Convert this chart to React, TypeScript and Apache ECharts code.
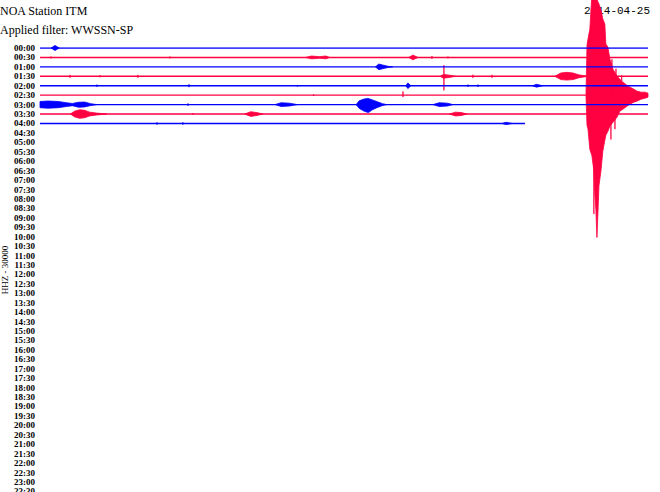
import React, { useEffect, useRef } from "react";
import * as echarts from "echarts";

// Helicorder row labels (one row = 30 minutes)
const rowLabels = [
  "00:00", "00:30", "01:00", "01:30", "02:00", "02:30", "03:00", "03:30",
  "04:00", "04:30", "05:00", "05:30", "06:00", "06:30", "07:00", "07:30",
  "08:00", "08:30", "09:00", "09:30", "10:00", "10:30", "11:00", "11:30",
  "12:00", "12:30", "13:00", "13:30", "14:00", "14:30", "15:00", "15:30",
  "16:00", "16:30", "17:00", "17:30", "18:00", "18:30", "19:00", "19:30",
  "20:00", "20:30", "21:00", "21:30", "22:00", "22:30", "23:00", "23:30",
];

// minutes recorded in each row so far
const recordedMinutes = [30, 30, 30, 30, 30, 30, 30, 30, 23.93];

// each event: list of [minute in row, amplitude up, amplitude down] (in row spacings)
type Sample = [number, number, number];

const events0000: Sample[][] = [
  [[0.55, 0, 0], [0.74, 0.27, 0.27], [0.95, 0, 0]],
];
const events0030: Sample[][] = [
  [[0.54, 0.1, 0.1]],
  [[6.41, 0.1, 0.1]],
  [[13.1, 0, 0], [13.4, 0.15, 0.15], [13.8, 0.08, 0.08], [14.1, 0.15, 0.15], [14.3, 0, 0]],
  [[18.2, 0, 0], [18.4, 0.25, 0.25], [18.65, 0, 0]],
  [[19.34, 0.15, 0.15]],
  [[20.13, 0.1, 0.1]],
];
const events0100: Sample[][] = [
  [[16.55, 0, 0], [16.72, 0.3, 0.3], [16.9, 0.2, 0.2], [17.2, 0.05, 0.05], [17.4, 0, 0]],
];
const events0130: Sample[][] = [
  [[1.48, 0.15, 0.15]],
  [[2.96, 0.1, 0.1]],
  [[4.83, 0.15, 0.15]],
  [[19.93, 1.17, 1.49]],
  [[19.75, 0, 0], [19.9, 0.2, 0.2], [20.2, 0.12, 0.12], [20.5, 0, 0]],
  [[21.36, 0.16, 0.16]],
  [[22.3, 0.16, 0.16]],
  [[25.4, 0, 0], [25.7, 0.35, 0.35], [26.0, 0.42, 0.4], [26.3, 0.35, 0.35], [26.6, 0.15, 0.15], [26.9, 0.05, 0.05], [27.1, 0, 0]],
];
const events0200: Sample[][] = [
  [[2.81, 0.12, 0.12]],
  [[7.35, 0.15, 0.15]],
  [[12.7, 0.08, 0.08]],
  [[18.05, 0, 0], [18.15, 0.3, 0.3], [18.3, 0, 0]],
  [[21.12, 0.12, 0.12]],
  [[21.61, 0.12, 0.12]],
  [[24.3, 0, 0], [24.5, 0.15, 0.15], [24.8, 0, 0]],
];
const events0230: Sample[][] = [
  [[13.5, 0.08, 0.08]],
  [[17.91, 0.4, 0.2]],
  [
    [26.94, 0, 0], [26.99, 5.31, 3.19], [27.04, 5.95, 3.61], [27.13, 7.0, 5.74],
    [27.23, 10.63, 6.4], [27.33, 10.63, 8.0], [27.38, 10.63, 10.6], [27.43, 10.4, 12.2],
    [27.48, 10.2, 15.09], [27.53, 9.9, 12.4], [27.58, 9.67, 9.6], [27.68, 9.03, 8.0],
    [27.77, 8.08, 5.95], [27.87, 7.55, 4.78], [27.92, 5.42, 4.25], [28.02, 5.1, 3.83],
    [28.12, 3.83, 3.29], [28.27, 2.76, 2.87], [28.47, 2.02, 2.34], [28.61, 1.7, 1.7],
    [28.76, 1.38, 1.49], [28.96, 1.06, 1.17], [29.11, 0.85, 0.96], [29.3, 0.64, 0.74],
    [29.45, 0.43, 0.64], [29.65, 0.32, 0.43], [29.85, 0.32, 0.32], [30.0, 0.21, 0.21],
  ],
  [[27.33, 0, 12.6]],
  [[28.17, 0, 4.7]],
  [[28.22, 3.8, 0]],
  [[28.37, 0, 3.6]],
  [[28.42, 2.8, 0]],
  [[28.7, 2.1, 0]],
];
const events0300: Sample[][] = [
  [[0, 0.33, 0.33], [0.4, 0.38, 0.38], [0.9, 0.33, 0.33], [1.3, 0.2, 0.2], [1.6, 0.12, 0.12], [1.9, 0.25, 0.28], [2.2, 0.27, 0.25], [2.5, 0.1, 0.1], [2.8, 0, 0]],
  [[7.3, 0.12, 0.12]],
  [[11.6, 0, 0], [11.9, 0.2, 0.2], [12.3, 0.15, 0.15], [12.7, 0, 0]],
  [[15.6, 0, 0], [15.75, 0.4, 0.4], [16.0, 0.6, 0.7], [16.2, 0.65, 0.85], [16.4, 0.5, 0.55], [16.65, 0.3, 0.3], [16.9, 0.1, 0.1], [17.1, 0, 0]],
  [[19.39, 0, 0], [19.7, 0.2, 0.2], [20.1, 0.15, 0.15], [20.37, 0, 0]],
];
const events0330: Sample[][] = [
  [[1.5, 0, 0], [1.7, 0.3, 0.3], [1.95, 0.45, 0.45], [2.2, 0.4, 0.4], [2.45, 0.2, 0.2], [2.8, 0.1, 0.1], [3.3, 0, 0]],
  [[7.55, 0.1, 0.1]],
  [[10.1, 0, 0], [10.4, 0.25, 0.25], [10.7, 0.15, 0.15], [11.0, 0, 0]],
  [[20.2, 0, 0], [20.5, 0.2, 0.2], [20.8, 0.15, 0.15], [21.07, 0, 0]],
];
const events0400: Sample[][] = [
  [[5.77, 0.12, 0.12]],
  [[7.05, 0.12, 0.12]],
  [[22.8, 0, 0], [23.0, 0.12, 0.12], [23.3, 0, 0]],
];

const traceEvents = [
  events0000, events0030, events0100, events0130, events0200,
  events0230, events0300, events0330, events0400,
];

const BLUE = "#0000ff";
const RED = "#ff0040";

export default function App() {
  const ref = useRef<HTMLDivElement>(null);
  useEffect(() => {
    document.body.style.margin = "0";
    const chart = echarts.init(ref.current!, null, { renderer: "svg" });
    const series: any[] = [];
    traceEvents.forEach((evs, r) => {
      const color = r % 2 === 0 ? BLUE : RED;
      series.push({
        type: "line",
        data: [[0, r], [recordedMinutes[r], r]],
        showSymbol: false,
        silent: true,
        lineStyle: { color, width: 1.4 },
      });
      series.push({
        type: "custom",
        silent: true,
        clip: false,
        data: evs.map((ev) => [ev[0][0], r]),
        renderItem: (params: any, api: any) => {
          const ev = evs[params.dataIndex];
          const top = ev.map(([m, u]) => api.coord([m, r - u]));
          const bottom = ev
            .slice()
            .reverse()
            .map(([m, , d]) => api.coord([m, r + d]));
          return {
            type: "polygon",
            shape: { points: top.concat(bottom) },
            style: { fill: color, stroke: color, lineWidth: 0.8 },
          };
        },
      });
    });

    chart.setOption({
      animation: false,
      grid: { left: 40, right: 12, top: 48, bottom: 0.6, outerBoundsMode: "none", containLabel: false },
      xAxis: { type: "value", min: 0, max: 30, show: false },
      yAxis: {
        type: "value",
        inverse: true,
        min: 0,
        max: 47,
        interval: 1,
        axisLine: { show: false },
        axisTick: { show: false },
        splitLine: { show: false },
        axisLabel: {
          margin: 5,
          fontFamily: "Liberation Serif",
          fontSize: 9,
          fontWeight: "bold",
          color: "#000",
          formatter: (v: number) => rowLabels[v] ?? "",
        },
      },
      graphic: {
        elements: [
          {
            type: "text", left: 0, top: 5, z: 0,
            style: { text: "NOA Station ITM", fontFamily: "Liberation Serif", fontSize: 12, fill: "#000" },
          },
          {
            type: "text", left: 0, top: 24, z: 0,
            style: { text: "Applied filter: WWSSN-SP", fontFamily: "Liberation Serif", fontSize: 12, fill: "#000" },
          },
          {
            type: "text", right: 10, top: 5, z: 0,
            style: { text: "2014-04-25", fontFamily: "Liberation Mono", fontSize: 11, fill: "#000" },
          },
          {
            type: "text", x: 5, y: 270, rotation: Math.PI / 2, z: 0,
            style: {
              text: "HHZ - 30000", fontFamily: "Liberation Serif", fontSize: 9, fill: "#000",
              textAlign: "center", textVerticalAlign: "middle",
            },
          },
        ],
      },
      series,
    });
    return () => chart.dispose();
  }, []);
  return <div ref={ref} style={{ width: 660, height: 492 }} />;
}
